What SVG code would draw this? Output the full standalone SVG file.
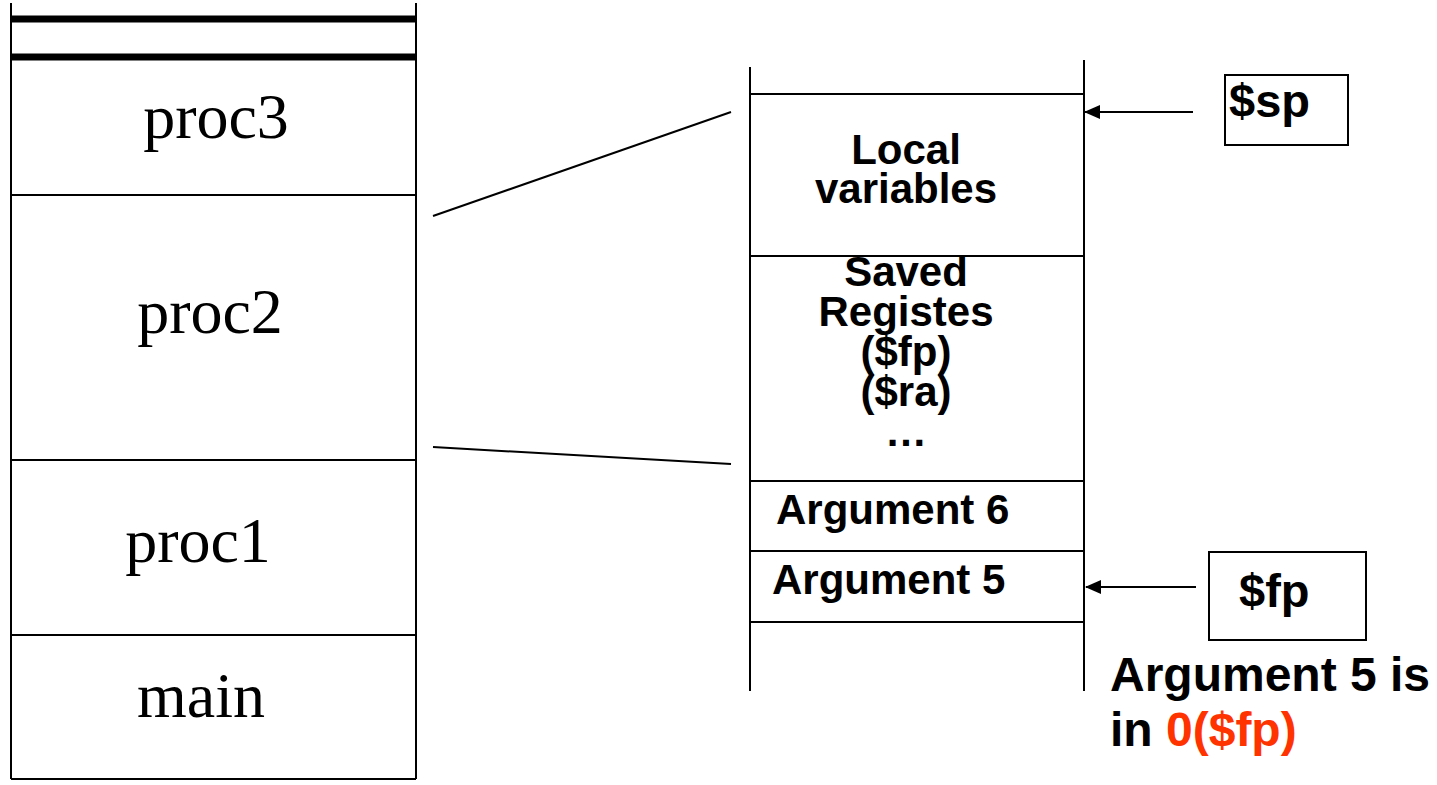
<svg xmlns="http://www.w3.org/2000/svg" width="1437" height="785" viewBox="0 0 1437 785">
<style>
.ln{stroke:#000;stroke-width:2;fill:none}
.thick{stroke:#000;stroke-width:7}
.serif{font-family:"Liberation Serif","Times New Roman",serif;font-size:64px;fill:#000}
.b{font-family:"Liberation Sans",Arial,sans-serif;font-weight:bold;font-size:42px;fill:#000}
.big{font-size:47px}
.note{font-size:48px}
</style>
<defs>
<marker id="ah" markerWidth="16" markerHeight="14" refX="15" refY="7" orient="auto" markerUnits="userSpaceOnUse">
<path d="M0,0 L16,7 L0,14 Z" fill="#000"/>
</marker>
</defs>
<rect width="1437" height="785" fill="#fff"/>
<g id="left-stack">
<line class="ln" x1="11" y1="3" x2="11" y2="779"/>
<line class="ln" x1="416" y1="3" x2="416" y2="779"/>
<line class="thick" x1="11" y1="19" x2="416" y2="19"/>
<line class="thick" x1="11" y1="57" x2="416" y2="57"/>
<line class="ln" x1="11" y1="195" x2="416" y2="195"/>
<line class="ln" x1="11" y1="460" x2="416" y2="460"/>
<line class="ln" x1="11" y1="635" x2="416" y2="635"/>
<line class="ln" x1="11" y1="779" x2="416" y2="779"/>
</g>
<g id="proc3"><text class="serif" x="216" y="138" text-anchor="middle">proc3</text></g>
<g id="proc2"><text class="serif" x="210" y="333" text-anchor="middle">proc2</text></g>
<g id="proc1"><text class="serif" x="198" y="562" text-anchor="middle">proc1</text></g>
<g id="main"><text class="serif" x="201" y="717" text-anchor="middle">main</text></g>
<g id="right-stack">
<line class="ln" x1="750" y1="67" x2="750" y2="691"/>
<line class="ln" x1="1084" y1="60" x2="1084" y2="691"/>
<line class="ln" x1="750" y1="94" x2="1084" y2="94"/>
<line class="ln" x1="750" y1="256" x2="1084" y2="256"/>
<line class="ln" x1="750" y1="481" x2="1084" y2="481"/>
<line class="ln" x1="750" y1="551" x2="1084" y2="551"/>
<line class="ln" x1="750" y1="622" x2="1084" y2="622"/>
</g>
<g id="local-vars">
<text class="b" x="906" y="164" text-anchor="middle">Local</text>
<text class="b" x="906" y="203" text-anchor="middle">variables</text>
</g>
<g id="saved-regs">
<text class="b" x="906" y="286" text-anchor="middle">Saved</text>
<text class="b" x="906" y="326" text-anchor="middle">Registes</text>
<text class="b" x="906" y="366" text-anchor="middle">($fp)</text>
<text class="b" x="906" y="406" text-anchor="middle">($ra)</text>
<text class="b" x="906" y="446" text-anchor="middle">…</text>
</g>
<g id="arg6"><text class="b" x="776" y="524">Argument 6</text></g>
<g id="arg5"><text class="b" x="772" y="594">Argument 5</text></g>
<g id="sp">
<rect class="ln" x="1225" y="75" width="123" height="70"/>
<text class="b big" x="1229" y="117">$sp</text>
</g>
<g id="fp">
<rect class="ln" x="1209" y="552" width="157" height="88"/>
<text class="b big" x="1239" y="607">$fp</text>
</g>
<g id="note">
<text class="b note" x="1110" y="691">Argument 5 is</text>
<text class="b note" x="1110" y="746">in <tspan fill="#FF3300">0($fp)</tspan></text>
</g>
<g id="connectors">
<line class="ln" x1="433" y1="216" x2="731" y2="112"/>
<line class="ln" x1="433" y1="447" x2="731" y2="464"/>
<line class="ln" x1="1193" y1="112" x2="1085" y2="112" marker-end="url(#ah)"/>
<line class="ln" x1="1196" y1="587" x2="1086" y2="587" marker-end="url(#ah)"/>
</g>
</svg>
